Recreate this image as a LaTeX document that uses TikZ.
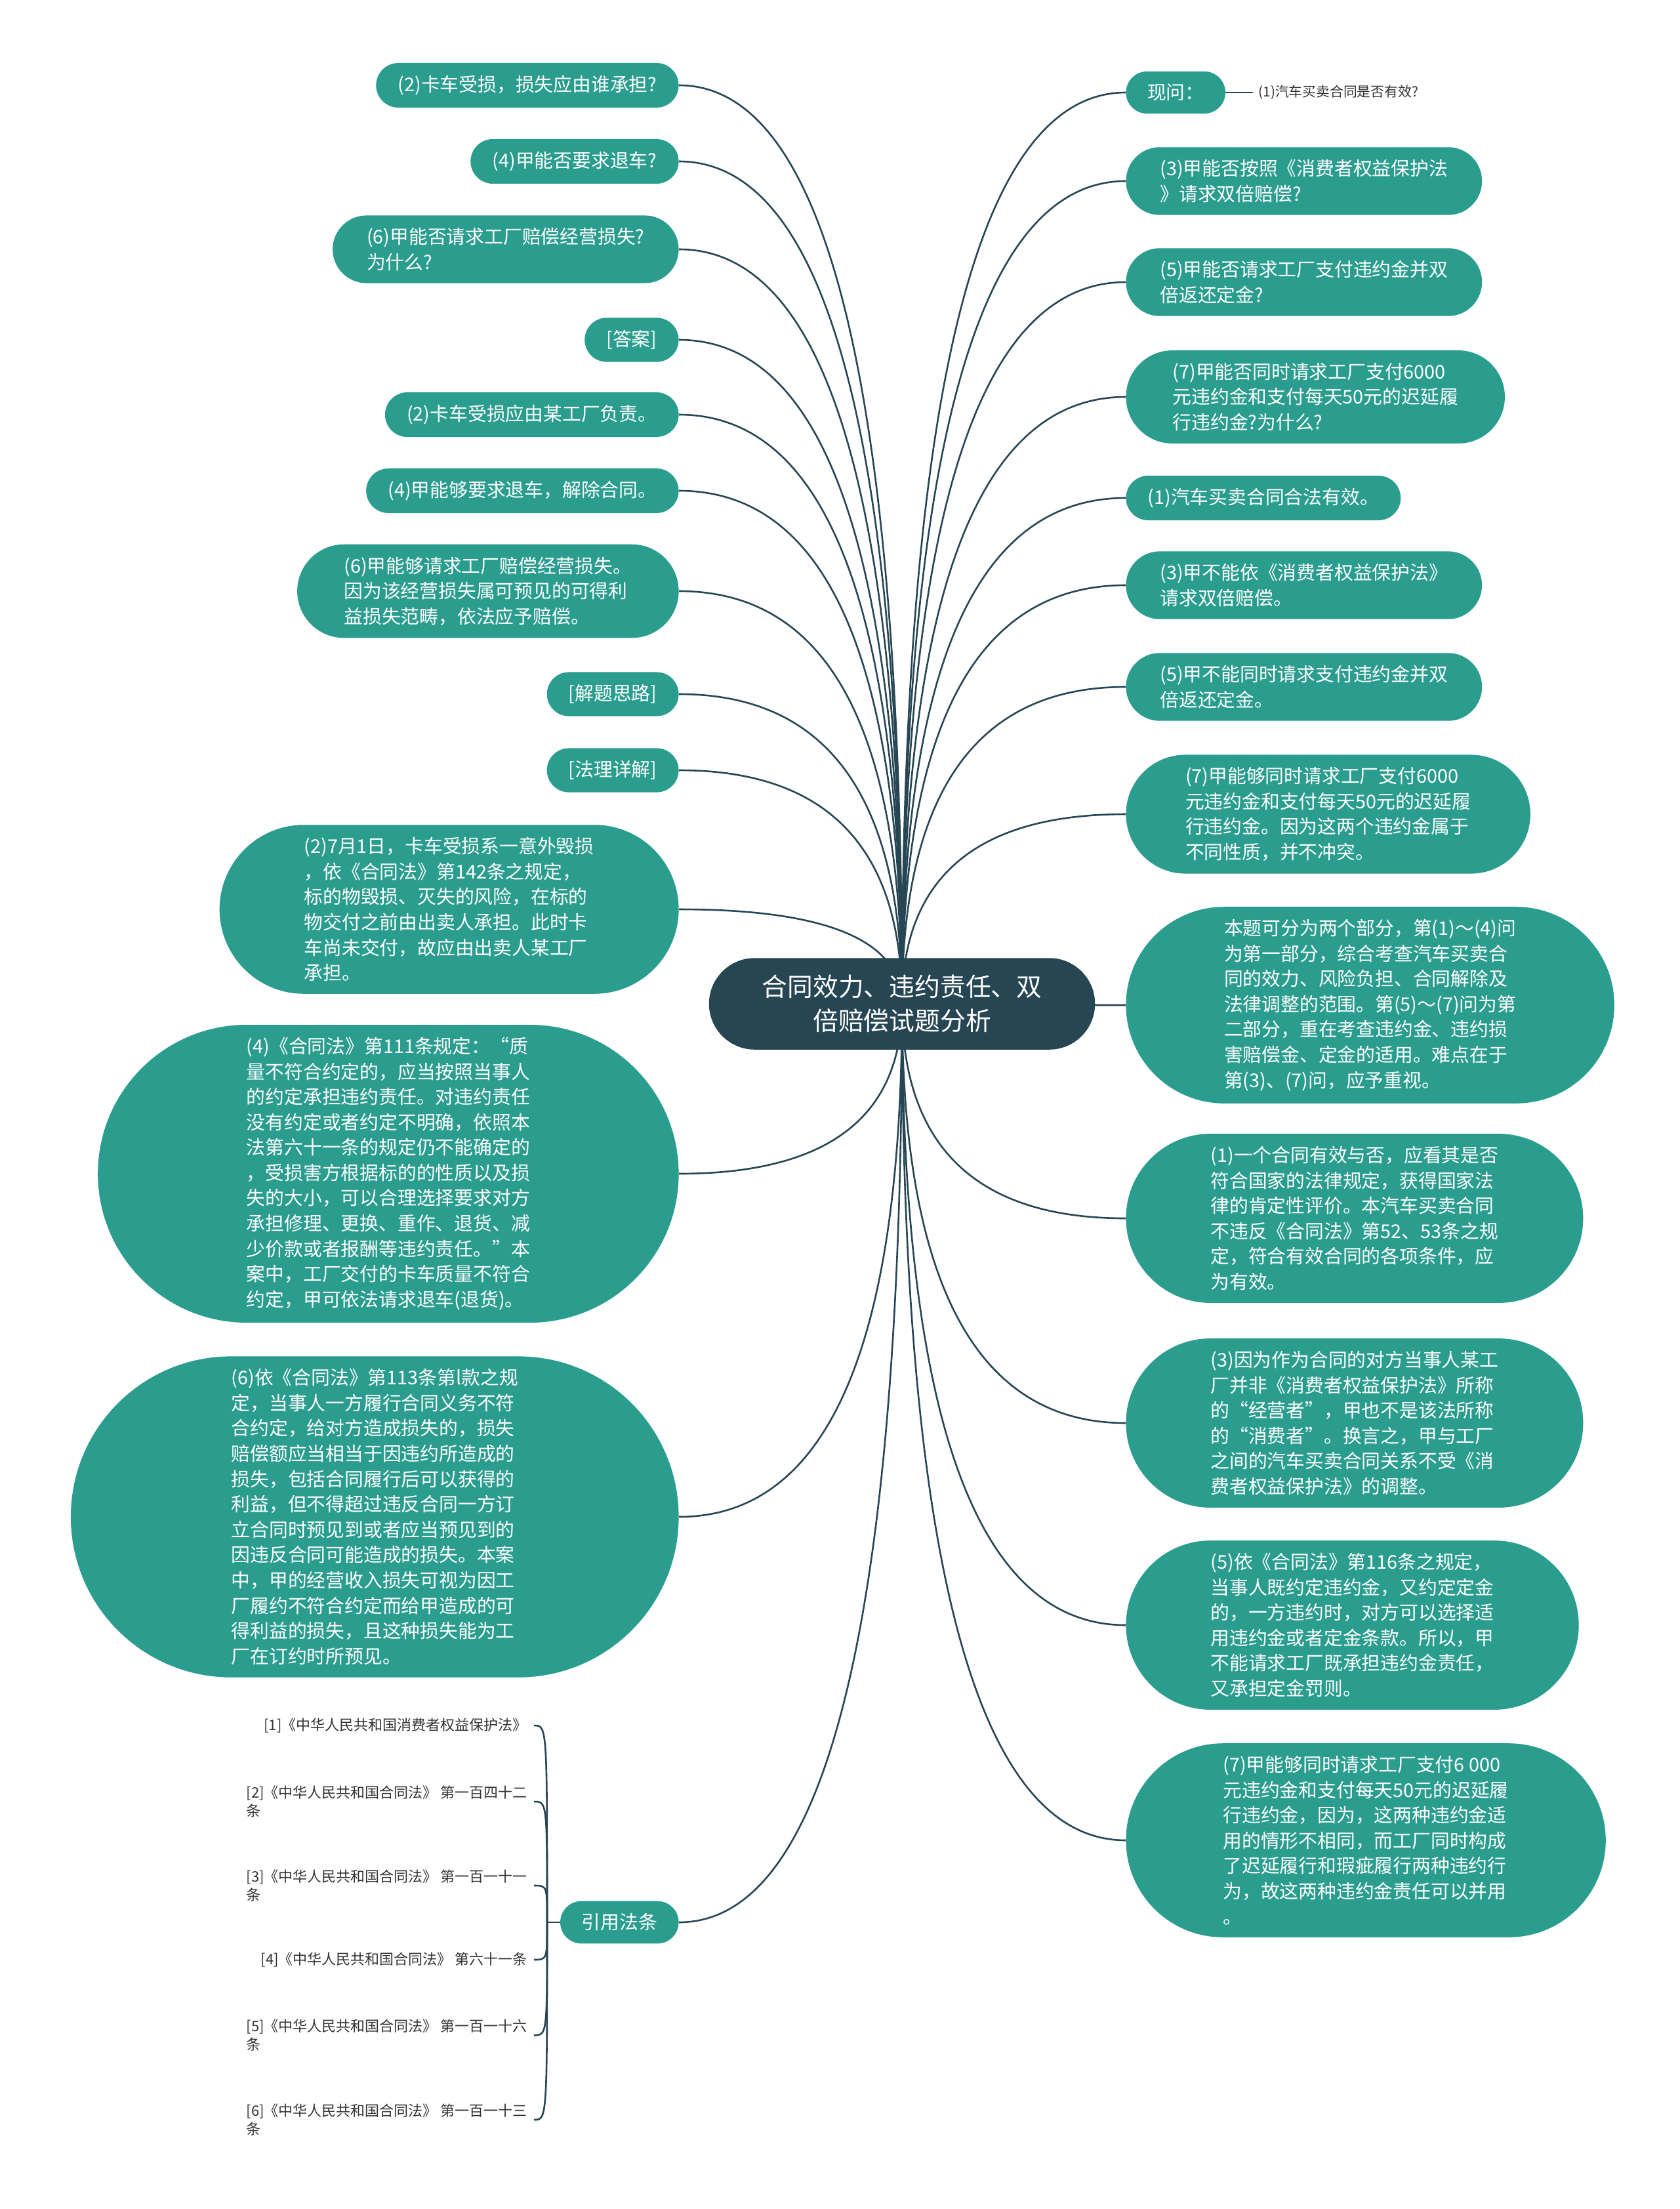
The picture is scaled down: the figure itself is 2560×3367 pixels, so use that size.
\documentclass[tikz,border=0pt]{standalone}
\usepackage{fontspec}
\setmainfont{Noto Sans CJK SC}
\usetikzlibrary{shapes.misc,backgrounds,calc}
\definecolor{tealbox}{HTML}{2A9D8F}
\definecolor{rootbox}{HTML}{264653}
\definecolor{linkc}{HTML}{264653}
\begin{document}
\begin{tikzpicture}[x=0.5pt,y=-0.5pt,
	box/.style={rounded rectangle,fill=tealbox,text=white,inner ysep=9.5pt,align=left,font=\fontsize{14.4}{19.3}\selectfont},
	lbox/.style={box,anchor=east,inner xsep=#1},
	rbox/.style={box,anchor=west,inner xsep=#1},
	root/.style={rounded rectangle,fill=rootbox,text=white,inner xsep=32.7pt,inner ysep=13pt,align=center,font=\fontsize{19.4}{25.8}\selectfont},
	lawref/.style={anchor=east,align=left,inner xsep=5pt,inner ysep=1.5pt,text=black!80,font=\fontsize{11}{14.3}\selectfont},
	link/.style={draw=linkc,line width=1.3pt}]
	\useasboundingbox (0,0) rectangle (2560,3367);
	
	\node[root] (root) at (1375,1530) {合同效力、违约责任、双\\倍赔偿试题分析};
	
	% left side
	\node[lbox=14.9pt] (l1) at (1035,130) {(2)卡车受损，损失应由谁承担?};
	\node[lbox=14.9pt] (l2) at (1035,246) {(4)甲能否要求退车?};
	\node[lbox=20.2pt] (l3) at (1035,380) {(6)甲能否请求工厂赔偿经营损失?\\为什么?};
	\node[lbox=14.9pt] (l4) at (1035,518) {[答案]};
	\node[lbox=14.9pt] (l5) at (1035,632) {(2)卡车受损应由某工厂负责。};
	\node[lbox=14.9pt] (l6) at (1035,748) {(4)甲能够要求退车，解除合同。};
	\node[lbox=24.3pt] (l7) at (1035,901) {(6)甲能够请求工厂赔偿经营损失。\\因为该经营损失属可预见的可得利\\益损失范畴，依法应予赔偿。};
	\node[lbox=14.9pt] (l8) at (1035,1058) {[解题思路]};
	\node[lbox=14.9pt] (l9) at (1035,1174) {[法理详解]};
	\node[lbox=33.8pt] (l10) at (1035,1386) {(2)7月1日，卡车受损系一意外毁损\\，依《合同法》第142条之规定，\\标的物毁损、灭失的风险，在标的\\物交付之前由出卖人承担。此时卡\\车尚未交付，故应由出卖人某工厂\\承担。};
	\node[lbox=45.3pt] (l11) at (1035,1789) {(4)《合同法》第111条规定：“质\\量不符合约定的，应当按照当事人\\的约定承担违约责任。对违约责任\\没有约定或者约定不明确，依照本\\法第六十一条的规定仍不能确定的\\，受损害方根据标的的性质以及损\\失的大小，可以合理选择要求对方\\承担修理、更换、重作、退货、减\\少价款或者报酬等违约责任。”本\\案中，工厂交付的卡车质量不符合\\约定，甲可依法请求退车(退货)。};
	\node[lbox=47.3pt] (l12) at (1035,2312) {(6)依《合同法》第113条第l款之规\\定，当事人一方履行合同义务不符\\合约定，给对方造成损失的，损失\\赔偿额应当相当于因违约所造成的\\损失，包括合同履行后可以获得的\\利益，但不得超过违反合同一方订\\立合同时预见到或者应当预见到的\\因违反合同可能造成的损失。本案\\中，甲的经营收入损失可视为因工\\厂履约不符合约定而给甲造成的可\\得利益的损失，且这种损失能为工\\厂在订约时所预见。};
	\node[lbox=14.9pt] (l13) at (1035,2930) {引用法条};
	
	% right side
	\node[rbox=14.9pt] (ra) at (1716,141) {现问：};
	\node[anchor=west,inner sep=4pt,text=black!80,font=\fontsize{10.4}{14}\selectfont] (q1) at (1910,141) {(1)汽车买卖合同是否有效?};
	\node[rbox=20.2pt] (rb) at (1716,276) {(3)甲能否按照《消费者权益保护法\\》请求双倍赔偿?};
	\node[rbox=20.2pt] (rc) at (1716,430) {(5)甲能否请求工厂支付违约金并双\\倍返还定金?};
	\node[rbox=24.3pt] (rd) at (1716,605) {(7)甲能否同时请求工厂支付6000\\元违约金和支付每天50元的迟延履\\行违约金?为什么?};
	\node[rbox=14.9pt] (re) at (1716,759) {(1)汽车买卖合同合法有效。};
	\node[rbox=20.2pt] (rf) at (1716,892) {(3)甲不能依《消费者权益保护法》\\请求双倍赔偿。};
	\node[rbox=20.2pt] (rg) at (1716,1047) {(5)甲不能同时请求支付违约金并双\\倍返还定金。};
	\node[rbox=27.8pt] (rh) at (1716,1241) {(7)甲能够同时请求工厂支付6000\\元违约金和支付每天50元的迟延履\\行违约金。因为这两个违约金属于\\不同性质，并不冲突。};
	\node[rbox=36.4pt] (ri) at (1716,1532) {本题可分为两个部分，第(1)～(4)问\\为第一部分，综合考查汽车买卖合\\同的效力、风险负担、合同解除及\\法律调整的范围。第(5)～(7)问为第\\二部分，重在考查违约金、违约损\\害赔偿金、定金的适用。难点在于\\第(3)、(7)问，应予重视。};
	\node[rbox=33.8pt] (rj) at (1716,1857) {(1)一个合同有效与否，应看其是否\\符合国家的法律规定，获得国家法\\律的肯定性评价。本汽车买卖合同\\不违反《合同法》第52、53条之规\\定，符合有效合同的各项条件，应\\为有效。};
	\node[rbox=33.8pt] (rk) at (1716,2169) {(3)因为作为合同的对方当事人某工\\厂并非《消费者权益保护法》所称\\的“经营者”，甲也不是该法所称\\的“消费者”。换言之，甲与工厂\\之间的汽车买卖合同关系不受《消\\费者权益保护法》的调整。};
	\node[rbox=33.8pt] (rl) at (1716,2477) {(5)依《合同法》第116条之规定，\\当事人既约定违约金，又约定定金\\的，一方违约时，对方可以选择适\\用违约金或者定金条款。所以，甲\\不能请求工厂既承担违约金责任，\\又承担定金罚则。};
	\node[rbox=36.4pt] (rm) at (1716,2805) {(7)甲能够同时请求工厂支付6 000\\元违约金和支付每天50元的迟延履\\行违约金，因为，这两种违约金适\\用的情形不相同，而工厂同时构成\\了迟延履行和瑕疵履行两种违约行\\为，故这两种违约金责任可以并用\\。};
	
	% cited articles
	\node[lawref] (r1) at (814,2630) {[1]《中华人民共和国消费者权益保护法》};
	\node[lawref] (r2) at (814,2746) {[2]《中华人民共和国合同法》 第一百四十二\\条};
	\node[lawref] (r3) at (814,2874) {[3]《中华人民共和国合同法》 第一百一十一\\条};
	\node[lawref] (r4) at (814,2987) {[4]《中华人民共和国合同法》 第六十一条};
	\node[lawref] (r5) at (814,3102) {[5]《中华人民共和国合同法》 第一百一十六\\条};
	\node[lawref] (r6) at (814,3231) {[6]《中华人民共和国合同法》 第一百一十三\\条};
	\coordinate (jn) at (834,2930);
	
	\begin{scope}[on background layer]
		\fill[white] (0,0) rectangle (2560,3367);
		\foreach \n in {l1,l2,l3,l4,l5,l6,l7,l8,l9,l10,l11,l12,l13}
		\draw[link] (\n.east) .. controls ($(\n.east)!.667!(\n.east -| root.center)$) and ($(root.center)!.667!(\n.east -| root.center)$) .. (root.center);
		\foreach \n in {ra,rb,rc,rd,re,rf,rg,rh,ri,rj,rk,rl,rm}
		\draw[link] (\n.west) .. controls ($(\n.west)!.667!(\n.west -| root.center)$) and ($(root.center)!.667!(\n.west -| root.center)$) .. (root.center);
	\end{scope}
	\draw[link] (ra.east) -- (q1.west);
	\draw[link] (l13.west) -- (jn);
	\foreach \r in {r1,r2,r3,r4,r5,r6}
	\draw[link] (jn) .. controls (jn |- \r.east) .. (\r.east);
\end{tikzpicture}
\end{document}
